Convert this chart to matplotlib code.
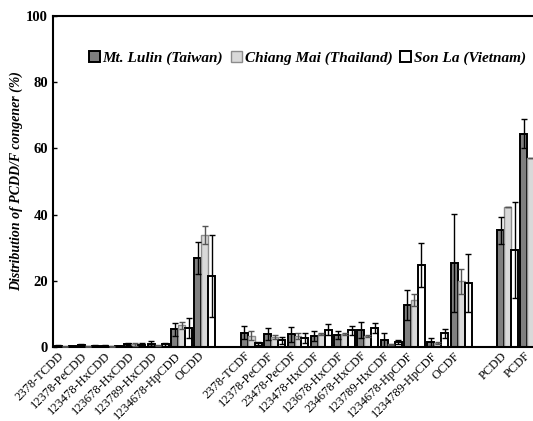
import matplotlib
matplotlib.use("Agg")
import matplotlib.pyplot as plt
import matplotlib.transforms as mtrans
import numpy as np

# congener labels (PCDDs, gap, PCDFs, gap, totals)
labels_pcdd = ["2378-TCDD", "12378-PeCDD", "123478-HxCDD", "123678-HxCDD",
               "123789-HxCDD", "1234678-HpCDD", "OCDD"]
labels_pcdf = ["2378-TCDF", "12378-PeCDF", "23478-PeCDF", "123478-HxCDF",
               "123678-HxCDF", "234678-HxCDF", "123789-HxCDF", "1234678-HpCDF",
               "1234789-HpCDF", "OCDF"]
labels_tot = ["PCDD", "PCDF"]

series = ["Mt. Lulin (Taiwan)", "Chiang Mai (Thailand)", "Son La (Vietnam)"]

lulin = [0.3, 0.6, 0.3, 0.9, 1.0, 5.3, 26.8,
         4.3, 3.8, 3.8, 3.3, 3.6, 5.0, 2.1, 12.7, 1.5, 25.3,
         35.2, 64.4]
lulin_err = [0.2, 0.4, 0.2, 0.4, 0.8, 2.0, 4.8,
             2.0, 1.8, 2.3, 1.5, 1.2, 2.4, 2.0, 4.4, 1.2, 14.8,
             4.2, 4.4]
chiang = [0.1, 0.2, 0.2, 0.8, 0.4, 6.5, 33.8,
          3.4, 2.9, 3.3, 4.0, 4.0, 3.4, 0.8, 14.2, 1.2, 19.8,
          42.4, 57.2]
chiang_err = [0.05, 0.1, 0.1, 0.4, 0.2, 1.2, 2.7,
              1.3, 0.6, 0.8, 0.3, 0.3, 0.3, 0.2, 1.7, 0.3, 3.9,
              0.0, 0.0]
sonla = [0.2, 0.3, 0.3, 0.7, 0.8, 5.8, 21.4,
         1.1, 2.0, 2.6, 5.2, 5.0, 5.6, 1.6, 24.7, 4.1, 19.3,
         29.3, 80.0]
sonla_err = [0.1, 0.2, 0.1, 0.5, 0.4, 3.1, 12.3,
             0.5, 1.0, 1.5, 1.6, 1.3, 1.5, 0.6, 6.6, 1.4, 8.8,
             14.6, 5.0]

pos = list(range(0, 7)) + list(range(8, 18)) + [19, 20]
labels = labels_pcdd + labels_pcdf + labels_tot

plt.rcParams['font.family'] = ['Liberation Serif', 'DejaVu Serif']

fig = plt.figure(figsize=(5.33, 4.21), dpi=100)
ax = fig.add_axes([0.0994, 0.1758, 1 - 0.0994, 0.962 - 0.1758])

x = np.array(pos, dtype=float)
w = 0.3
styles = [
    (lulin, lulin_err, "#7f7f7f", "black", "black", 1.4),
    (chiang, chiang_err, "#d9d9d9", "#8c8c8c", "#555555", 1.0),
    (sonla, sonla_err, "white", "black", "black", 1.4),
]
for i, (vals, errs, fc, ec, errc, lw) in enumerate(styles):
    xs = x + (i - 1) * w
    ax.bar(xs, vals, width=w, color=fc, edgecolor=ec, linewidth=lw,
           label=series[i], zorder=2)
    ax.errorbar(xs, vals, yerr=errs, fmt="none", ecolor=errc, elinewidth=1,
                capsize=2, capthick=1, zorder=3)

ax.set_xlim(-0.52, 20.09)
ax.set_ylim(0, 100)
ax.set_yticks([0, 20, 40, 60, 80, 100])
ax.tick_params(axis="y", direction="in", length=3, width=1, labelsize=10.5)
for t in ax.get_yticklabels():
    t.set_fontweight("bold")
ax.set_xticks(pos)
ax.set_xticklabels(labels, rotation=45, ha="right", rotation_mode="anchor",
                   fontsize=9)
ax.tick_params(axis="x", length=0, pad=2)
# nudge x labels left so the last one stays inside the figure
shift = mtrans.ScaledTranslation(-5 / 72, 0, fig.dpi_scale_trans)
for t in ax.get_xticklabels():
    t.set_transform(t.get_transform() + shift)

for s in ["left", "bottom", "top"]:
    ax.spines[s].set_linewidth(1.5)
ax.spines["right"].set_visible(False)

ax.set_ylabel("Distribution of PCDD/F congener (%)", fontsize=10,
              fontweight="bold", fontstyle="italic", labelpad=2)

ax.legend(loc="center", bbox_to_anchor=(0.53, 0.873), ncol=3, frameon=False,
          prop={"weight": "bold", "style": "italic", "size": 11},
          handlelength=0.7, handleheight=0.7, handletextpad=0.2,
          columnspacing=0.5)

fig.savefig("out.png", dpi=100)
